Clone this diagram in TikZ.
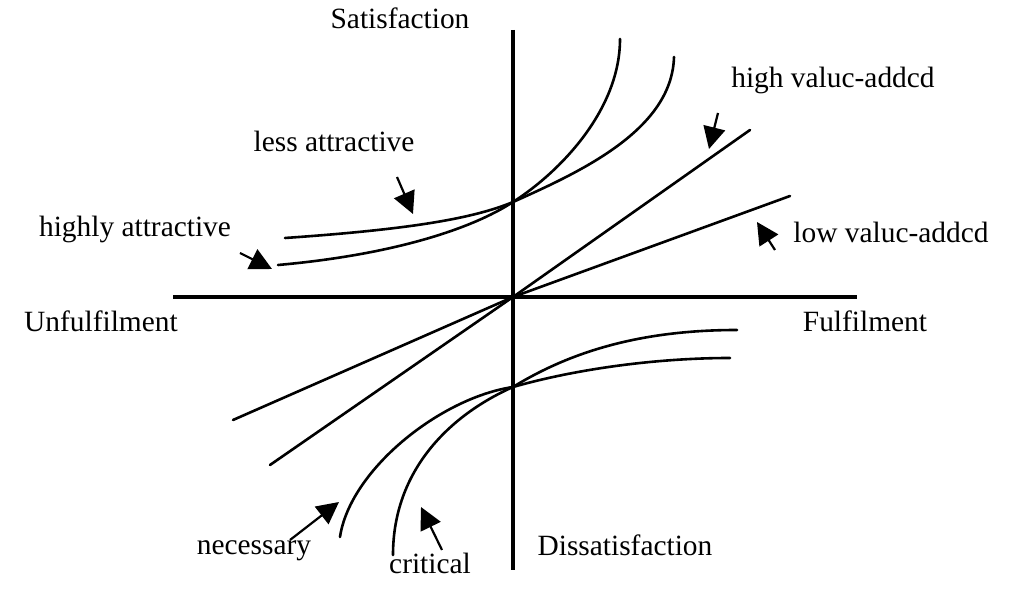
\documentclass[tikz,border=0pt]{standalone}
\usepackage{fontspec}
\setmainfont{Liberation Serif}
\usetikzlibrary{arrows.meta}
\begin{document}
\begin{tikzpicture}[x=0.5pt,y=-0.5pt,
  lbl/.style={font=\fontsize{14.7}{17}\selectfont, inner sep=0pt, anchor=base},
  axis/.style={line width=1.7pt},
  curve/.style={line width=1.3pt, line cap=round},
  ptr/.style={line width=1.1pt, -{Triangle[length=11pt,width=11pt]}}]
\useasboundingbox (0,0) rectangle (1024,603);

% axes
\coordinate (xl) at (173,297);
\coordinate (xr) at (857,297);
\coordinate (yt) at (513,30);
\coordinate (yb) at (513,570);
\coordinate (o) at (513,297);
\draw[axis] (xl) -- (xr);
\draw[axis] (yt) -- (yb);

% value-added lines
\coordinate (hvl) at (270,465);
\coordinate (hvr) at (750,130);
\coordinate (lvl) at (233,420);
\coordinate (lvr) at (790,196);
\draw[curve] (hvl) -- (o) -- (hvr);
\draw[curve] (lvl) -- (o) -- (lvr);

% attractive curves
\coordinate (up) at (513,202);
\coordinate (aL) at (285,238);
\coordinate (aR) at (674,57);
\coordinate (bL) at (278,265);
\coordinate (bR) at (620,39);
\draw[curve] (aL) .. controls (400,230) and (470,220) .. (up)
                  .. controls (580,172) and (672,130) .. (aR);
\draw[curve] (bL) .. controls (390,255) and (470,230) .. (up)
                  .. controls (560,172) and (620,110) .. (bR);

% must-be curves
\coordinate (dn) at (513,387);
\coordinate (cL) at (340,537);
\coordinate (cR) at (730,358);
\coordinate (dL) at (393,555);
\coordinate (dR) at (737,330);
\draw[curve] (cL) .. controls (350,470) and (440,398) .. (dn)
                  .. controls (580,368) and (660,358) .. (cR);
\draw[curve] (dL) .. controls (393,470) and (450,415) .. (dn)
                  .. controls (570,352) and (640,330) .. (dR);

% labels
\node[lbl] (sat) at (400,29) {Satisfaction};
\node[lbl] (dis) at (625,556) {Dissatisfaction};
\node[lbl] (unf) at (101,332) {Unfulfilment};
\node[lbl] (ful) at (865,332) {Fulfilment};
\node[lbl] (hva) at (833,88) {high valuc-addcd};
\node[lbl] (lva) at (891,243) {low valuc-addcd};
\node[lbl] (lat) at (334,152) {less attractive};
\node[lbl] (hat) at (135,237) {highly attractive};
\node[lbl] (nec) at (254,555) {necessary};
\node[lbl] (cri) at (430,574) {critical};

% pointer arrows
\coordinate (a1s) at (397,177); \coordinate (a1e) at (413,214);
\coordinate (a2s) at (240,253); \coordinate (a2e) at (272,269);
\coordinate (a3s) at (718,113); \coordinate (a3e) at (709,149);
\coordinate (a4s) at (775,250); \coordinate (a4e) at (757,222);
\coordinate (a5s) at (290,540); \coordinate (a5e) at (339,502);
\coordinate (a6s) at (442,550); \coordinate (a6e) at (421,507);
\draw[ptr] (a1s) -- (a1e);
\draw[ptr] (a2s) -- (a2e);
\draw[ptr] (a3s) -- (a3e);
\draw[ptr] (a4s) -- (a4e);
\draw[ptr] (a5s) -- (a5e);
\draw[ptr] (a6s) -- (a6e);
\end{tikzpicture}
\end{document}
